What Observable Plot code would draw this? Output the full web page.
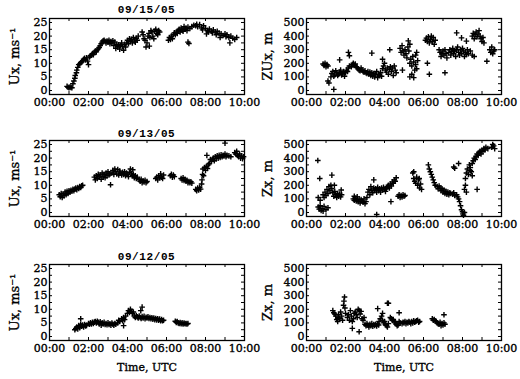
<!DOCTYPE html>
<html><head><meta charset="utf-8">
<script src="https://cdn.jsdelivr.net/npm/d3@7"></script>
<script src="https://cdn.jsdelivr.net/npm/@observablehq/plot@0.6"></script>
<style>
body{margin:0;background:#fff}
#chart{position:relative;width:520px;height:379px;background:#fff;overflow:hidden}
.panel{position:absolute}
.panel text{stroke:#000;stroke-width:0.35px}
.title{position:absolute;width:195px;text-align:center;font:bold 11px "Liberation Mono";color:#000;line-height:12px;letter-spacing:0.6px}
</style></head><body><div id="chart"></div>
<script>
// ---- tick labels / categories ----
const dates = ["09/15/05", "09/13/05", "09/12/05"];
const hourTicks = [0,1,2,3,4,5,6,7,8,9,10];
const hourLabels = [0,2,4,6,8,10];
const uxTicks = [0,5,10,15,20,25];
const uxMinor = [0,2.5,5,7.5,10,12.5,15,17.5,20,22.5,25];
const zxTicks = [0,100,200,300,400,500];
const zxMinor = [0,50,100,150,200,250,300,350,400,450,500];
const yLabels = ["Ux, ms\u207B\u00B9", "ZUx, m", "Zx, m"];

// ---- series: [hour UTC, value] ----
const ux0915 = [[0.9,1.5],[0.95,1.2],[1.0,1.0],[1.05,1.3],[1.1,1.1],[1.15,1.0],[1.2,2.5],[1.25,3.5],[1.3,4.5],[1.32,5.5],[1.38,6.5],[1.4,7.5],
[1.45,8.5],[1.5,9.5],[1.55,9.8],[1.6,10.2],[1.65,10.5],[1.7,11],[1.75,11.5],[1.8,11.8],[1.85,11.2],[1.9,12],[1.95,10.8],[2.0,9.5],
[2.05,12.3],[2.1,12.8],[2.15,13],[2.2,13.5],[2.25,13.2],[2.3,14],[2.35,14.5],[2.4,14.2],[2.45,15],[2.5,15.3],[2.55,15.8],[2.6,16.5],[2.65,17.2],[2.7,17.8],[2.75,18.3],
[2.8,18.5],[2.85,18],[2.9,17.5],[2.95,18.2],[3.0,17.8],[3.05,18.5],[3.1,17.2],[3.15,18],[3.2,17.5],[3.25,18.3],[3.3,16.5],[3.35,17.8],[3.4,15.5],[3.45,17],[3.5,16],[3.55,16.8],[3.6,15.2],[3.65,16.5],[3.7,17.5],[3.75,16.2],[3.8,14.8],[3.85,17],[3.9,16],[3.95,17.5],
[4.0,18.5],[4.05,17.2],[4.1,19],[4.15,18],[4.2,18.8],[4.25,17.5],[4.3,19.5],[4.35,18.2],[4.4,17.8],[4.45,19.2],[4.5,18.5],[4.55,20],
[4.75,21.5],[4.8,20.5],[4.85,19],[4.9,18.5],[4.95,16],[5.0,17.5],[5.05,20],[5.1,21],[5.12,16.3],[5.15,19.5],[5.2,22],[5.25,21.5],[5.3,20],[5.35,19],[5.4,21.8],[5.45,22.5],[5.5,21],[5.55,20.5],[5.6,22],[5.65,21.5],
[6.1,18.5],[6.15,19.5],[6.2,18.8],[6.25,20],[6.3,19],[6.35,20.5],[6.4,21.2],[6.45,20.5],[6.5,21.5],[6.55,21],[7.1,17.8],[7.15,17.3],
[6.6,22],[6.65,22.5],[6.7,21.5],[6.75,23],[6.8,22.2],[6.85,21.8],[6.9,23.5],[6.95,22.5],[7.0,23],[7.05,22],[7.1,23.3],[7.2,22.8],[7.3,23.5],[7.4,24],[7.5,23.8],[7.55,24.3],[7.6,23.5],[7.7,24.2],[7.8,23],[7.85,22.3],[7.9,23.8],[8.0,22.8],[8.05,20.8],[8.1,22],[8.15,21.5],[8.2,22.6],[8.3,21.8],[8.35,21.2],[8.4,22.3],[8.5,21.5],[8.55,20.5],[8.6,21.8],[8.7,21],[8.75,19.5],[8.8,20.8],[8.9,20.2],[9.0,20.8],[9.05,19.8],[9.1,20.5],[9.2,19.5],[9.25,17.5],[9.3,20],[9.4,19.2],[9.5,18.8],[9.6,19.5]];

const zux0915 = [[0.85,195],[0.9,185],[0.95,200],[1.0,175],[1.05,190],[1.1,180],[1.1,70],[1.15,55],[1.4,8],
[1.25,100],[1.3,125],[1.35,140],[1.4,105],[1.45,115],[1.5,145],[1.55,130],[1.6,110],[1.65,120],[1.7,135],[1.75,150],[1.8,115],[1.85,125],[1.9,140],[1.95,105],[1.7,225],[2.15,280],[2.2,255],
[2.0,130],[2.05,150],[2.1,140],[2.15,165],[2.2,180],[2.3,175],[2.35,190],[2.4,200],[2.45,185],[2.5,195],[2.55,175],[2.6,170],[2.65,160],[2.7,150],[2.75,145],[2.8,165],[2.85,150],[2.9,140],[2.95,135],[3.0,145],[3.05,130],[3.1,125],[3.15,140],
[3.2,120],[3.25,135],[3.3,110],[3.35,130],[3.4,105],[3.45,125],[3.5,100],[3.55,115],[3.6,140],[3.65,95],[3.7,120],[3.75,110],[3.8,130],[3.85,105],[3.35,275],
[3.9,160],[3.95,180],[4.0,200],[4.05,150],[4.1,135],[4.15,165],[4.2,120],[4.25,155],[4.3,175],[4.35,140],[4.4,165],[4.45,110],[4.5,180],[4.55,150],[4.6,130],[3.9,230],[4.27,300],
[4.8,310],[4.85,280],[4.9,330],[4.95,290],[5.0,260],[5.05,300],[5.1,270],[5.15,240],[5.2,320],[5.25,290],[5.3,200],[5.35,230],[5.4,180],[5.45,250],[5.5,210],[5.55,150],[5.6,190],[5.65,160],[5.7,220],
[5.22,365],[5.3,340],[5.3,100],[5.4,120],[5.5,95],[5.6,260],[5.65,280],[4.92,150],
[6.1,370],[6.15,385],[6.2,360],[6.25,395],[6.3,350],[6.35,375],[6.4,400],[6.45,360],[6.5,390],[6.55,340],[6.6,370],[6.2,200],[6.3,120],[7.1,130],
[6.8,300],[6.85,280],[6.9,250],[6.95,270],[7.0,290],[7.05,260],[7.1,300],[7.15,270],[7.2,240],[7.3,280],[7.35,300],[7.4,260],[7.45,285],[7.5,310],[7.55,270],[7.6,290],[7.65,250],[7.7,300],[7.75,320],[7.8,280],[7.85,260],[7.9,300],[7.95,270],[8.0,310],[8.05,290],[8.1,250],[8.15,280],[8.2,265],[8.25,300],[8.3,270],[8.4,290],
[7.7,424],[7.95,387],[8.2,363],[7.55,290],
[8.5,400],[8.55,420],[8.6,380],[8.65,410],[8.7,430],[8.75,395],[8.8,415],[8.85,440],[8.9,400],[8.95,380],[9.0,360],[9.05,390],[9.1,350],[9.25,215],
[9.4,300],[9.45,280],[9.5,320],[9.55,270],[9.6,290],[9.65,300],[8.5,260],[8.6,250]];

const ux0913 = [[0.5,6.5],[0.55,5.8],[0.6,7],[0.65,5.5],[0.7,6.8],[0.75,6.2],[0.8,7.5],[0.85,6.5],[0.9,7.8],[0.95,7],[1.0,8],[1.05,7.5],[1.1,8.2],[1.15,7.8],[1.2,8.5],[1.25,8],[1.3,8.6],[1.35,9],[1.4,8.4],[1.45,9.2],[1.5,8.8],[1.55,9.5],[1.6,9.2],[1.65,9.8],[1.7,10],
[2.3,13],[2.35,12],[2.4,13.5],[2.45,12.5],[2.5,14],[2.55,13],[2.6,13.8],[2.65,12.2],[2.7,14.5],[2.75,13.2],[2.8,14],[2.85,12.8],[2.9,14.5],[2.95,13.5],[3.0,15],[3.05,13.8],[3.1,14.2],[3.13,10.2],
[3.2,14.5],[3.25,15.5],[3.3,14],[3.35,16],[3.4,15],[3.45,14.2],[3.5,15.8],[3.55,13.8],[3.6,15.2],[3.65,14.5],[3.7,13.8],[3.75,14.8],[3.8,14],[3.85,15],[3.9,13.5],[3.95,14.5],[4.0,14],[4.05,13.2],[4.1,14.8],[4.15,16],[4.2,14.2],[4.25,13.5],[4.3,14],[4.35,12.8],[4.4,13.5],[4.45,12.5],[4.5,13],[4.27,15.7],
[4.6,12],[4.65,11.5],[4.7,12.2],[4.75,11],[4.8,11.6],[4.85,11.2],[4.9,11.8],[4.95,11],[5.0,11.4],
[5.45,12.5],[5.5,13],[5.55,12],[5.6,13.5],[5.65,12.8],[5.7,14.2],[5.75,13],[5.8,12.5],[5.85,13.8],
[6.2,13.5],[6.25,14],[6.3,13],[6.35,13.8],[6.4,13.2],
[6.75,12.5],[6.8,12],[6.85,12.8],[6.9,11.8],[6.95,12.2],[7.0,11.5],[7.05,11.8],[7.1,11],[7.15,11.4],[7.2,11],[7.25,11.3],[7.3,10.8],
[7.5,8.5],[7.55,8],[7.6,9],[7.65,8.3],[7.7,9.2],[7.75,8.6],
[7.8,10.5],[7.82,12],[7.85,14],[7.87,16],[7.9,13.5],[7.95,16.5],[8.0,15.5],[8.05,17],[8.1,16.2],[8.15,17.5],[8.2,18],[8.25,19.5],[8.3,18.8],[8.07,21],
[8.35,19.5],[8.4,20],[8.45,19],[8.5,20.5],[8.55,19.8],[8.6,20.8],[8.65,20],[8.7,21],[8.75,20.2],[8.8,21.2],[8.85,20.5],[8.9,21],[8.95,20.8],[9.0,21.5],[9.05,20.5],[9.1,21],[9.2,20.8],[9.3,20.5],[9.0,25.5],
[9.5,22],[9.55,21.5],[9.6,22.5],[9.65,21],[9.7,20.5],[9.75,21.5],[9.8,20],[9.85,20.8],[9.9,19.8],[9.95,20.5]];

const zx0913 = [[0.58,382],[0.6,40],[0.65,25],[0.7,50],[0.75,15],[0.8,30],[0.85,10],[0.9,45],[1.0,20],[1.1,35],[0.6,110],[0.7,90],[0.68,250],
[0.85,130],[0.9,110],[0.95,150],[1.0,125],[1.05,170],[1.1,140],[1.15,190],[1.2,160],[1.25,200],[1.3,175],[1.35,145],[1.4,120],[1.45,155],[1.5,130],[1.55,110],[1.6,140],[1.65,120],[1.7,135],[1.75,115],[1.8,130],[1.3,275],[1.43,200],[1.78,165],
[2.4,100],[2.45,90],[2.5,105],[2.55,85],[2.6,95],[2.65,80],[2.7,100],[2.75,70],[2.8,95],[2.85,85],[2.9,75],[2.95,100],[3.0,65],[3.05,80],[2.45,120],[2.6,115],
[3.1,110],[3.15,150],[3.2,170],[3.25,130],[3.3,190],[3.35,160],[3.4,145],[3.45,180],[3.5,165],[3.55,175],[3.6,150],[3.65,185],[3.7,160],[3.75,175],[3.8,150],[3.85,180],[3.9,165],[3.95,185],[4.0,170],[4.05,155],[4.1,175],[4.15,190],[4.2,200],
[3.45,240],[3.6,-15],[4.33,80],
[4.25,180],[4.3,210],[4.35,195],[4.4,225],[4.45,215],[4.5,240],[4.55,230],[4.6,255],
[4.7,120],[4.75,130],[4.8,110],[4.85,125],[4.9,115],[4.95,130],[5.0,120],[5.05,125],
[5.45,290],[5.5,250],[5.55,230],[5.6,215],[5.65,260],[5.7,200],[5.75,240],[5.8,180],[5.85,210],[5.9,170],[5.5,300],[5.78,250],
[6.25,350],[6.3,320],[6.35,300],[6.4,280],[6.45,260],[6.5,240],[6.55,220],[6.6,200],
[6.7,190],[6.75,175],[6.8,195],[6.85,180],[6.9,160],[6.95,175],[7.0,150],[7.05,165],[7.1,140],[7.15,155],[7.2,135],[7.25,150],[7.3,130],[7.35,145],[7.4,140],[7.5,135],[7.55,145],[7.6,125],
[7.55,335],[7.6,325],[7.8,360],
[7.7,130],[7.75,115],[7.8,100],[7.85,80],[7.9,50],[7.95,20],[8.0,5],[8.02,-10],[8.05,-20],[8.1,0],
[8.1,170],[8.15,200],[8.2,150],
[8.15,250],[8.2,290],[8.25,320],[8.3,280],[8.35,350],[8.4,310],[8.45,300],[8.5,270],[8.75,170],
[8.4,330],[8.5,360],[8.55,380],[8.6,400],[8.65,390],[8.7,410],[8.75,430],[8.8,420],[8.85,440],[8.9,450],[8.95,430],[9.0,460],[9.05,450],[9.1,470],[9.15,460],[9.2,480],[9.3,470],
[9.5,480],[9.55,500],[9.6,490],[9.65,470]];

const ux0912 = [[1.3,2.5],[1.35,3],[1.4,3.5],[1.45,2.8],[1.5,4],[1.55,3.2],[1.6,4.5],[1.65,3.8],[1.7,4.2],[1.75,3.5],[1.8,4.4],[1.85,3.9],[1.9,4.1],[1.6,6.5],
[2.0,4.8],[2.05,4.5],[2.1,5],[2.15,4.6],[2.2,5.2],[2.25,4.8],[2.3,5.3],[2.35,5.5],[2.4,5],[2.45,5.6],[2.5,5.2],[2.55,4.6],[2.6,5.4],[2.65,4.2],[2.7,5],[2.75,4.6],[2.8,5.2],[2.85,4.4],[2.9,4.8],[2.95,4.3],[3.0,5],[3.05,4.4],[3.1,4.7],[3.15,4.2],[3.2,4.9],[3.25,4.5],[3.3,4.2],[3.35,4.8],[3.4,4.5],
[3.5,5],[3.55,6],[3.6,5.5],[3.7,6.5],[3.75,5.8],[3.8,7],[3.85,6.2],[3.9,7.5],[3.8,4],
[4.0,8.5],[4.05,9.5],[4.1,8.8],[4.15,10],[4.2,9.2],[4.25,8.5],[4.3,9],[4.75,10.8],[4.68,9.5],
[4.35,7.5],[4.4,7],[4.45,7.7],[4.5,7.2],[4.55,6.8],[4.6,7.5],[4.65,7],[4.7,6.6],[4.75,7.3],[4.8,6.8],[4.85,7.4],[4.9,6.5],[4.95,7.1],[5.0,6.8],[5.05,7.2],[5.1,6.6],[5.15,7],[5.2,6.5],[5.25,6.9],[5.3,6.4],[5.35,6.8],[5.4,6.2],[5.45,6.6],[5.5,6.1],[5.55,6.5],[5.6,6],[5.65,6.4],[5.7,5.8],[5.75,6.2],[5.8,5.8],[5.85,6],
[6.45,5.6],[6.5,5.2],[6.55,5.5],[6.6,5],[6.65,4.8],[6.7,5.1],[6.75,4.7],[6.8,5],[6.85,4.6],[6.9,4.9],[6.95,4.7],[7.0,4.8],[7.05,4.6],[7.1,4.8]];

const zx0912 = [[1.35,190],[1.4,175],[1.45,165],[1.5,150],[1.55,125],[1.6,110],[1.62,140],[1.65,160],[1.7,130],[1.75,180],[1.8,150],[1.85,120],[1.9,230],[1.92,260],[1.95,290],[1.97,210],[2.0,170],
[2.1,140],[2.15,160],[2.2,120],[2.25,190],[2.3,150],[2.35,110],[2.4,130],[2.45,170],[2.5,180],[2.55,160],[2.6,140],[2.65,200],[2.7,190],[2.75,165],[2.8,185],[2.85,130],[2.9,120],[2.95,140],[2.35,60],[2.7,35],
[3.0,90],[3.05,80],[3.1,95],[3.15,85],[3.2,70],[3.25,90],[3.3,80],[3.35,95],[3.4,75],[3.45,88],[3.5,82],[3.55,90],[3.6,78],[3.65,92],[3.7,85],
[3.65,205],[3.72,110],[3.78,130],[3.85,150],[3.9,120],[4.15,245],[4.2,245],[3.9,170],
[3.95,100],[4.0,110],[4.05,90],[4.1,80],[4.15,70],[4.2,95],
[4.3,140],[4.35,130],[4.4,120],[4.45,125],[4.5,110],[4.55,100],[4.6,90],[4.65,80],[4.7,85],[4.75,110],[4.8,100],[4.75,175],
[4.9,95],[4.95,105],[5.0,100],[5.05,110],[5.1,95],[5.15,105],[5.2,100],[5.25,110],[5.3,105],[5.35,95],[5.4,110],[5.45,100],[5.5,115],[5.55,105],[5.6,110],[5.65,115],[5.7,120],[5.75,105],[5.8,110],
[6.45,130],[6.5,120],[6.55,125],[6.6,115],[6.65,110],[6.7,100],[6.75,95],[6.8,90],[6.85,105],[6.9,80],[6.95,95],[7.0,85],[7.05,100],[7.1,90],[7.05,160]];

// ---- drawing ----
const cross = {
  draw(ctx, size) {
    const r = Math.sqrt(size / Math.PI);
    ctx.moveTo(-r, 0); ctx.lineTo(r, 0);
    ctx.moveTo(0, -r); ctx.lineTo(0, r);
  }
};
const hh = d => String(d).padStart(2, "0") + ":00";
const chart = document.getElementById("chart");

function panel(data, col, row, yLabel) {
  const last = row === 2;
  const W = 260, H = last ? 133 : 123;
  const mL = col === 0 ? 49 : 46, mR = col === 0 ? 16 : 19, mT = 18, mB = H - mT - 76;
  const fw = W - mL - mR, fh = 76;
  const isUx = col === 0;
  const yTicks = isUx ? uxTicks : zxTicks;
  const yMinor = isUx ? uxMinor : zxMinor;
  const yDomain = isUx ? [-1.47, 26.47] : [-29.4, 529.4];
  const svg = Plot.plot({
    width: W, height: H, marginLeft: mL, marginRight: mR, marginTop: mT, marginBottom: mB,
    style: {fontFamily: "DejaVu Serif", fontSize: "11px", color: "#000", background: "transparent", overflow: "visible"},
    x: {domain: [0, 10]},
    y: {domain: yDomain},
    marks: [
      Plot.tickX(hourTicks, {x: d => d, insetTop: fh - 3, stroke: "#000"}),
      Plot.tickX(hourTicks, {x: d => d, insetBottom: fh - 3, stroke: "#000"}),
      Plot.tickY(yMinor, {y: d => d, insetRight: fw - 3, stroke: "#000"}),
      Plot.tickY(yMinor, {y: d => d, insetLeft: fw - 3, stroke: "#000"}),
      Plot.frame({stroke: "#000", strokeWidth: 1.3}),
      Plot.axisX({ticks: hourLabels, tickSize: 0, tickPadding: 4, tickFormat: hh,
        label: last ? "Time, UTC" : null, labelAnchor: "center", labelArrow: "none", labelOffset: 30}),
      Plot.axisY({ticks: yTicks, tickSize: 0, tickPadding: 2, tickFormat: d => String(d), label: null}),
      Plot.axisY({ticks: [], tickSize: 0, fontSize: 13,
        label: yLabel, labelAnchor: "center", labelArrow: "none", labelOffset: col === 0 ? 40 : 44}),
      Plot.dot(data, {x: d => d[0], y: d => d[1], symbol: cross, r: 2.8, fill: "none", stroke: "#000", strokeWidth: 1.4})
    ]
  });
  svg.classList.add("panel");
  svg.style.left = (col === 0 ? 0 : 260) + "px";
  svg.style.top = [0, 122, 246][row] + "px";
  chart.appendChild(svg);
}

const tops = [4, 128, 251];
dates.forEach((d, i) => {
  const t = document.createElement("div");
  t.className = "title";
  t.textContent = d;
  t.style.left = "49px";
  t.style.top = tops[i] + "px";
  chart.appendChild(t);
});

panel(ux0915, 0, 0, yLabels[0]);
panel(zux0915, 1, 0, yLabels[1]);
panel(ux0913, 0, 1, yLabels[0]);
panel(zx0913, 1, 1, yLabels[2]);
panel(ux0912, 0, 2, yLabels[0]);
panel(zx0912, 1, 2, yLabels[2]);
</script></body></html>
